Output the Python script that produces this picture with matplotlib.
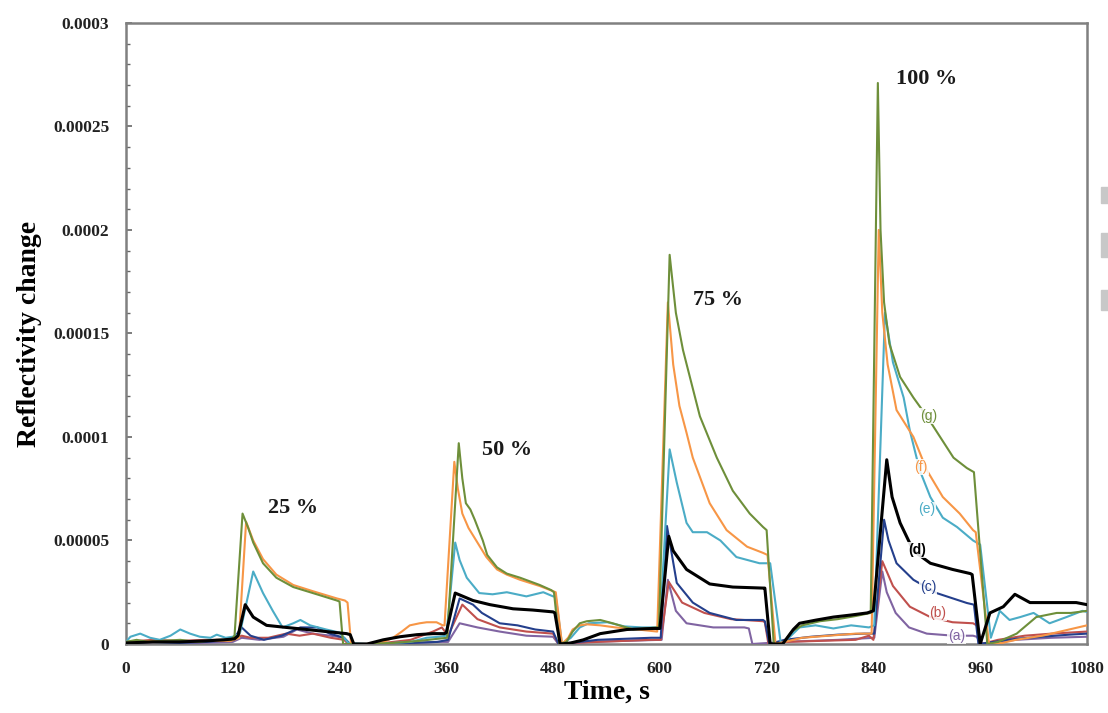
import numpy as np
import matplotlib
matplotlib.use('Agg')
import matplotlib.pyplot as plt
from matplotlib.patches import Rectangle

# Reflectivity change, in units of 1e-5
SCALE = 1e-5

# (a) purple
t_a = [0, 40, 80, 120, 130, 150, 177, 192, 210, 230, 245, 250, 300, 350, 362, 375, 395, 420, 450, 480, 486,
       520, 560, 600, 602, 609, 618, 630, 660, 695, 700, 704, 740, 800, 841, 850, 855, 865, 880, 900, 930,
       952, 956, 962, 1000, 1040, 1080]
v_a = [0.05, 0.1, 0.05, 0.1, 0.3, 0.2, 0.35, 0.7, 0.5, 0.4, 0.3, 0.0, 0.0, 0.1, 0.1, 1.0, 0.8, 0.6, 0.4, 0.35, 0.0,
       0.1, 0.15, 0.2, 0.2, 3.1, 1.6, 1.0, 0.8, 0.8, 0.75, 0.0, 0.1, 0.2, 0.3, 3.5, 2.5, 1.5, 0.8, 0.5, 0.4,
       0.4, 0.35, 0.0, 0.2, 0.3, 0.35]

# (b) red
t_b = [0, 30, 60, 90, 120, 130, 140, 160, 180, 195, 210, 230, 245, 250, 280, 320, 345, 355, 362, 378, 395, 420,
       450, 480, 486, 500, 530, 560, 590, 601, 610, 625, 650, 680, 716, 718, 722, 740, 780, 820, 835, 840, 850,
       862, 881, 904, 929, 952, 956, 962, 980, 1010, 1040, 1080]
v_b = [0.1, 0.2, 0.15, 0.2, 0.2, 0.4, 0.3, 0.3, 0.5, 0.4, 0.5, 0.3, 0.2, 0.0, 0.0, 0.2, 0.6, 0.8, 0.4, 1.9, 1.2, 0.8,
       0.6, 0.5, 0.0, 0.05, 0.1, 0.15, 0.2, 0.2, 3.0, 2.0, 1.5, 1.2, 1.1, 1.05, 0.0, 0.1, 0.15, 0.2, 0.4, 0.2, 4.0,
       2.8, 1.8, 1.3, 1.05, 1.0, 0.9, 0.0, 0.2, 0.4, 0.5, 0.6]

# (c) navy
t_c = [0, 30, 60, 90, 120, 130, 140, 155, 175, 196, 215, 229, 245, 252, 280, 320, 350, 362, 375, 390, 400, 420,
       440, 460, 480, 486, 500, 530, 560, 590, 601, 608, 619, 637, 656, 686, 716, 718, 723, 740, 770, 800, 830,
       841, 852, 857, 866, 885, 911, 945, 953, 958, 975, 1000, 1030, 1060, 1080]
v_c = [0.05, 0.1, 0.05, 0.1, 0.2, 0.8, 0.4, 0.2, 0.4, 0.8, 0.8, 0.5, 0.3, 0.0, 0.0, 0.05, 0.1, 0.2, 2.2, 1.9, 1.5, 1.0,
       0.9, 0.7, 0.6, 0.0, 0.05, 0.2, 0.25, 0.3, 0.3, 5.7, 2.95, 2.0, 1.5, 1.16, 1.16, 1.1, 0.0, 0.2, 0.35, 0.45, 0.5,
       0.5, 6.0, 5.0, 3.9, 3.1, 2.46, 1.98, 1.9, 0.0, 0.1, 0.25, 0.35, 0.45, 0.5]

# (d) black
t_d = [0, 30, 60, 90, 110, 122, 126, 134, 143, 158, 180, 203, 225, 248, 252, 256, 271, 289, 308, 327, 345, 358,
       360, 370, 390, 409, 435, 457, 480, 482, 488, 500, 514, 533, 563, 592, 600, 610, 615, 630, 656, 682, 716,
       718, 724, 738, 750, 757, 775, 795, 815, 833, 840, 855, 861, 870, 885, 904, 929, 949, 951, 960, 971, 986,
       999, 1016, 1038, 1057, 1068, 1080]
v_d = [0.05, 0.1, 0.1, 0.15, 0.2, 0.25, 0.4, 1.9, 1.3, 0.9, 0.8, 0.7, 0.6, 0.5, 0.45, 0.0, 0.0, 0.2, 0.35, 0.45, 0.5,
       0.5, 0.55, 2.46, 2.1, 1.9, 1.7, 1.64, 1.55, 1.5, 0.0, 0.05, 0.2, 0.5, 0.7, 0.75, 0.75, 5.2, 4.5, 3.6, 2.9,
       2.75, 2.7, 2.7, 0.0, 0.0, 0.7, 1.0, 1.15, 1.3, 1.4, 1.5, 1.6, 8.9, 7.1, 5.85, 4.5, 3.9, 3.6, 3.4, 3.35, 0.0,
       1.5, 1.8, 2.4, 2.0, 2.0, 2.0, 2.0, 1.9]

# (e) light blue
t_e = [0, 5, 16, 27, 38, 50, 61, 72, 83, 95, 102, 112, 120, 128, 143, 154, 165, 176, 188, 196, 207, 225, 240, 250,
       270, 300, 320, 338, 352, 360, 370, 375, 383, 397, 412, 428, 450, 469, 480, 483, 490, 500, 510, 520, 541, 560,
       580, 600, 611, 619, 630, 637, 653, 668, 686, 712, 724, 736, 745, 757, 775, 795, 815, 835, 841, 853, 862, 874,
       881, 892, 904, 918, 934, 952, 960, 972, 982, 993, 1005, 1020, 1038, 1057, 1075, 1080]
v_e = [0.1, 0.35, 0.5, 0.3, 0.2, 0.4, 0.7, 0.5, 0.35, 0.3, 0.45, 0.3, 0.35, 0.5, 3.5, 2.46, 1.6, 0.8, 1.0, 1.16, 0.9,
       0.7, 0.55, 0.05, 0.0, 0.05, 0.1, 0.3, 0.35, 0.4, 4.9, 4.05, 3.2, 2.46, 2.4, 2.5, 2.3, 2.5, 2.3, 2.3, 0.0, 0.3,
       0.8, 1.0, 1.05, 0.85, 0.8, 0.8, 9.4, 7.8, 5.85, 5.4, 5.4, 5.0, 4.2, 3.9, 3.9, 0.0, 0.3, 0.8, 0.9, 0.75, 0.9,
       0.8, 0.9, 16.0, 13.6, 11.9, 10.3, 8.4, 7.1, 6.1, 5.65, 5.0, 4.8, 0.3, 1.6, 1.16, 1.3, 1.5, 1.0, 1.3, 1.6, 1.55]

# (f) orange
t_f = [0, 30, 60, 90, 118, 127, 135, 143, 154, 169, 188, 210, 237, 246, 249, 253, 270, 290, 300, 310, 319, 330, 338,
       349, 356, 358, 369, 373, 378, 385, 395, 405, 417, 428, 443, 465, 480, 483, 490, 497, 502, 510, 518, 533, 550,
       575, 597, 609, 615, 622, 630, 637, 656, 675, 698, 716, 721, 730, 740, 760, 790, 820, 838, 846, 850, 856, 866,
       885, 900, 918, 937, 952, 955, 970, 985, 1000, 1030, 1060, 1080]
v_f = [0.1, 0.15, 0.1, 0.15, 0.15, 0.3, 5.9, 5.0, 4.1, 3.35, 2.85, 2.55, 2.2, 2.1, 2.0, 0.0, 0.0, 0.1, 0.3, 0.6, 0.9,
       1.0, 1.05, 1.05, 0.9, 0.9, 8.8, 7.5, 6.3, 5.6, 4.9, 4.2, 3.6, 3.35, 3.1, 2.8, 2.55, 2.5, 0.0, 0.3, 0.7, 0.9,
       0.95, 0.9, 0.8, 0.7, 0.6, 16.5, 13.5, 11.5, 10.2, 9.0, 6.8, 5.5, 4.7, 4.4, 4.3, 0.0, 0.1, 0.3, 0.4, 0.5, 0.5,
       20.0, 16.0, 13.5, 11.3, 10.0, 8.4, 7.1, 6.3, 5.5, 5.4, 0.0, 0.05, 0.2, 0.4, 0.7, 0.9]

# (g) green
t_g = [0, 12, 25, 40, 61, 80, 102, 118, 122, 131, 137, 143, 154, 169, 188, 210, 237, 240, 244, 270, 300, 330, 350,
       361, 374, 378, 382, 387, 392, 401, 406, 417, 428, 443, 465, 478, 481, 487, 495, 502, 510, 518, 533, 547, 570,
       597, 599, 611, 618, 626, 645, 664, 682, 701, 716, 720, 728, 738, 748, 760, 780, 800, 820, 837, 845, 848, 852,
       858, 870, 885, 900, 915, 930, 945, 953, 968, 980, 1001, 1023, 1046, 1062, 1080]
v_g = [0.1, 0.2, 0.1, 0.15, 0.2, 0.1, 0.2, 0.2, 0.4, 6.3, 5.65, 4.9, 3.9, 3.2, 2.75, 2.46, 2.1, 2.05, 0.0, 0.0, 0.05,
       0.15, 0.25, 0.3, 9.7, 8.0, 6.8, 6.5, 6.0, 5.0, 4.3, 3.7, 3.4, 3.2, 2.85, 2.6, 2.5, 0.0, 0.1, 0.6, 1.0, 1.1,
       1.16, 1.0, 0.7, 0.8, 0.8, 18.8, 16.0, 14.2, 11.0, 9.0, 7.4, 6.3, 5.65, 5.5, 0.0, 0.0, 0.6, 0.9, 1.1, 1.2, 1.35,
       1.5, 27.1, 20.0, 16.5, 14.5, 12.9, 11.9, 11.0, 10.0, 9.0, 8.5, 8.3, 0.0, 0.1, 0.5, 1.3, 1.5, 1.5, 1.6]

series = [
    ('(a)', t_a, v_a, '#8064A2'),
    ('(b)', t_b, v_b, '#C0504D'),
    ('(c)', t_c, v_c, '#243F8C'),
    ('(d)', t_d, v_d, '#000000'),
    ('(e)', t_e, v_e, '#4BACC6'),
    ('(f)', t_f, v_f, '#F79646'),
    ('(g)', t_g, v_g, '#6E8F3A'),
]

x_ticks = [0, 120, 240, 360, 480, 600, 720, 840, 960, 1080]
y_ticks = [0, 0.00005, 0.0001, 0.00015, 0.0002, 0.00025, 0.0003]
y_tick_labels = ['0', '0.00005', '0.0001', '0.00015', '0.0002', '0.00025', '0.0003']

conc_labels = ['25 %', '50 %', '75 %', '100 %']
conc_pos = [(160, 6.55), (400, 9.35), (637, 16.6), (865, 27.3)]

# where the (a)...(g) tags sit, in data units
label_pos = [(924, 0.4), (903, 1.5), (892, 2.75), (879, 4.55), (890, 6.5), (886, 8.55), (892, 11.0)]

SERIF = 'Liberation Serif'

fig = plt.figure(figsize=(11.08, 7.13), dpi=100)
ax = fig.add_axes([0.1137, 0.0968, 0.8673, 0.871])

for name, t, v, color in series:
    lw = 2.2 if name == '(d)' else 1.5
    z = 4 if name == '(d)' else 3
    ax.plot(t, np.array(v) * SCALE, color=color, lw=lw, zorder=z, solid_joinstyle='round')

ax.set_xlim(0, 1080)
ax.set_ylim(0, 0.0003)
ax.set_xticks(x_ticks)
ax.set_xticklabels([str(x) for x in x_ticks])
ax.set_yticks(y_ticks)
ax.set_yticklabels(y_tick_labels)
ax.set_yticks(np.arange(0, 0.0003, 0.00001), minor=True)

for lab in ax.get_xticklabels() + ax.get_yticklabels():
    lab.set_fontfamily(SERIF)
    lab.set_fontweight('bold')
    lab.set_fontsize(12.5)
    lab.set_color('#222222')

ax.tick_params(axis='y', which='major', direction='in', length=4, width=1.2, color='#666666', pad=12)
ax.tick_params(axis='y', which='minor', direction='in', length=3, width=1.0, color='#666666')
ax.tick_params(axis='x', which='major', direction='in', length=0, pad=12)

for sp in ax.spines.values():
    sp.set_color('#808080')
    sp.set_linewidth(1.8)

ax.set_xlabel('Time, s', fontfamily=SERIF, fontweight='bold', fontsize=20, labelpad=2)
ax.set_ylabel('Reflectivity change', fontfamily=SERIF, fontweight='bold', fontsize=20, labelpad=8)

for txt, (tx, ty) in zip(conc_labels, conc_pos):
    ax.text(tx, ty * SCALE, txt, fontfamily=SERIF, fontweight='bold', fontsize=16,
            color='#1a1a1a', va='center', ha='left')

# series tags sit in small white boxes over the curves
for (name, t, v, color), (lx, ly) in zip(series, label_pos):
    ax.text(lx, ly * SCALE, name, fontfamily='Liberation Sans', fontsize=10,
            fontweight='bold' if name == '(d)' else 'normal',
            color=color, va='center', ha='left', zorder=6,
            bbox=dict(facecolor='white', edgecolor='none', pad=0.6, alpha=0.85))

# gray marks cut off at the right edge
for top, h in [(187, 16), (233, 24), (290, 20)]:
    fig.patches.append(Rectangle((1101 / 1108, 1 - (top + h) / 713), 7 / 1108, h / 713,
                                 transform=fig.transFigure, color='#c8c8c8', zorder=0))

fig.savefig('out.png', dpi=100)
